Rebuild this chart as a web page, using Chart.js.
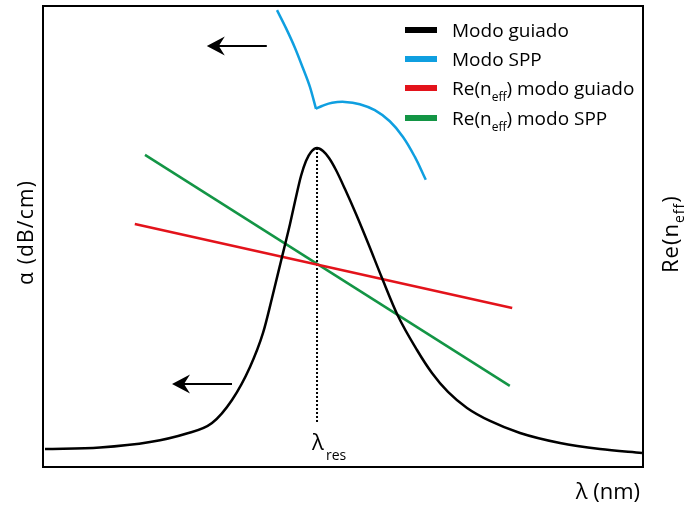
<!DOCTYPE html>
<html>
<head>
<meta charset="utf-8">
<script src="https://cdn.jsdelivr.net/npm/chart.js@4/dist/chart.umd.min.js"></script>
<style>
  html, body { margin: 0; padding: 0; background: #fff; }
  #wrap { width: 688px; height: 507px; }
</style>
</head>
<body>
<div id="wrap"><canvas id="c" width="688" height="507"></canvas></div>
<script>
// Wavelength axis is normalised (0–100); both vertical axes are schematic (0–100).

// Guided-mode attenuation α(λ) — resonant peak at λres
const lambdaGuided = [0.33, 9.5, 17.83, 23.67, 28.17, 31.5, 34.5, 36.67, 38.17, 39.67, 41.17, 42.17, 43.0, 43.83, 44.67, 45.67,
                      46.67, 47.67, 48.83, 50.33, 52.17, 54.17, 56.5, 59.17, 62.33, 64.83, 67.5, 70.67, 74.5, 79.5, 86.17, 92.83, 99.83];
const alphaGuided  = [3.90, 4.23, 5.42, 7.16, 9.54, 14.53, 21.69, 29.07, 36.66, 44.69, 52.71, 58.57, 63.12, 66.38, 68.33, 69.20,
                      68.55, 67.03, 64.43, 60.30, 54.88, 48.59, 41.00, 32.75, 25.38, 20.39, 16.27, 12.80, 9.98, 7.38, 5.21, 3.90, 3.04];

// SPP-mode attenuation: branch falling into the anti-crossing, then branch leaving it
const lambdaSppA = [39.0, 40.5, 42.0, 43.3, 44.5, 45.5];
const alphaSppA  = [99.1, 95.2, 90.9, 86.6, 82.4, 77.7];
const lambdaSppB = [45.5, 46.5, 48.2, 50.3, 52.8, 55.3, 57.8, 60.0, 62.0, 63.8];
const alphaSppB  = [77.7, 78.3, 79.0, 79.2, 78.7, 77.4, 75.0, 71.6, 67.2, 62.3];

// Effective index (right axis), linear trends crossing at λres
const lambdaNeffGuided = [15.3, 78.2];
const neffGuided       = [52.7, 34.5];
const lambdaNeffSpp    = [17.0, 77.8];
const neffSpp          = [67.7, 17.6];

// Resonance marker
const lambdaRes = 45.67;
const resMarkerAlpha = [69.2, 9.5];

// Arrows pointing to the α axis: [λ tail, λ tip, α]
const arrowUpper = [37.3, 27.3, 91.3];
const arrowLower = [31.5, 21.5, 18.0];

// Legend entries (text segments, subscript marked)
const legendColors = ['#000000', '#0f9fe0', '#e3131b', '#139545'];
const legendTexts = [
  [['Modo guiado', false]],
  [['Modo SPP', false]],
  [['Re(n', false], ['eff', true], [') modo guiado', false]],
  [['Re(n', false], ['eff', true], [') modo SPP', false]]
];

const pairs = (xs, ys) => xs.map((x, i) => ({ x: x, y: ys[i] }));
const FONT = "'Open Sans', 'DejaVu Sans', sans-serif";

function drawSegments(ctx, segs, x, y, size, subSize, subShift) {
  let cx = x;
  segs.forEach(([t, sub]) => {
    ctx.font = (sub ? subSize : size) + 'px ' + FONT;
    ctx.fillText(t, cx, sub ? y + subShift : y);
    cx += ctx.measureText(t).width;
  });
}

function arrow(ctx, xs, ys, a) {
  const tail = xs.getPixelForValue(a[0]);
  const tip = xs.getPixelForValue(a[1]);
  const y = ys.getPixelForValue(a[2]);
  ctx.strokeStyle = '#000';
  ctx.lineWidth = 2;
  ctx.beginPath();
  ctx.moveTo(tip + 10, y);
  ctx.lineTo(tail, y);
  ctx.stroke();
  ctx.fillStyle = '#000';
  ctx.beginPath();
  ctx.moveTo(tip, y);
  ctx.lineTo(tip + 18, y - 9.5);
  ctx.lineTo(tip + 12, y);
  ctx.lineTo(tip + 18, y + 9.5);
  ctx.closePath();
  ctx.fill();
}

const decor = {
  id: 'decor',
  afterDatasetsDraw(chart) {
    const { ctx, chartArea: a, scales } = chart;
    const xs = scales.x, ys = scales.y;
    ctx.save();

    // frame
    ctx.strokeStyle = '#000';
    ctx.lineWidth = 2;
    ctx.strokeRect(a.left, a.top, a.right - a.left, a.bottom - a.top);

    // arrows
    arrow(ctx, xs, ys, arrowUpper);
    arrow(ctx, xs, ys, arrowLower);

    // legend
    ctx.textBaseline = 'alphabetic';
    ctx.textAlign = 'left';
    const rows = [30, 59, 88, 118];
    rows.forEach((ry, i) => {
      ctx.fillStyle = legendColors[i];
      ctx.fillRect(405, ry - 3, 32, 6);
      ctx.fillStyle = '#000';
      drawSegments(ctx, legendTexts[i], 452, ry + 7, 19, 12, 6);
    });

    // λres label under the marker
    const px = xs.getPixelForValue(lambdaRes);
    ctx.fillStyle = '#000';
    ctx.font = '22px ' + FONT;
    ctx.fillText('λ', px - 5, 450);
    ctx.font = '14px ' + FONT;
    ctx.fillText('res', px + 9, 460);

    // x-axis title
    ctx.font = '22px ' + FONT;
    ctx.textAlign = 'right';
    ctx.fillText('λ (nm)', 640, 499);

    // left axis title
    ctx.save();
    ctx.translate(33, 232.5);
    ctx.rotate(-Math.PI / 2);
    ctx.textAlign = 'center';
    ctx.font = '21px ' + FONT;
    if ('letterSpacing' in ctx) ctx.letterSpacing = '1.2px';
    ctx.fillText('α (dB/cm)', 0, 0);
    ctx.restore();

    // right axis title
    ctx.save();
    ctx.translate(678, 273);
    ctx.rotate(-Math.PI / 2);
    ctx.textAlign = 'left';
    if ('letterSpacing' in ctx) ctx.letterSpacing = '1px';
    drawSegments(ctx, [['Re(n', false], ['eff', true], [')', false]], 0, 0, 22, 14, 6);
    ctx.restore();

    ctx.restore();
  }
};

const lineDs = (data, color, axis, extra) => Object.assign({
  data: data,
  borderColor: color,
  borderWidth: 2.5,
  pointRadius: 0,
  fill: false,
  yAxisID: axis,
  cubicInterpolationMode: 'monotone'
}, extra || {});

const straight = { cubicInterpolationMode: 'default', tension: 0 };

new Chart(document.getElementById('c'), {
  type: 'line',
  data: {
    datasets: [
      lineDs(pairs(lambdaGuided, alphaGuided), legendColors[0], 'y'),
      lineDs(pairs(lambdaSppA, alphaSppA), legendColors[1], 'y'),
      lineDs(pairs(lambdaSppB, alphaSppB), legendColors[1], 'y', { cubicInterpolationMode: 'default', tension: 0.4 }),
      lineDs(pairs(lambdaNeffGuided, neffGuided), legendColors[2], 'y2', straight),
      lineDs(pairs(lambdaNeffSpp, neffSpp), legendColors[3], 'y2', straight),
      lineDs(pairs([lambdaRes, lambdaRes], resMarkerAlpha), '#000', 'y', Object.assign({ borderWidth: 2, borderDash: [2, 2] }, straight))
    ]
  },
  options: {
    responsive: false,
    devicePixelRatio: 1,
    animation: false,
    layout: { padding: { left: 43, right: 45, top: 6, bottom: 40 } },
    plugins: { legend: { display: false }, tooltip: { enabled: false } },
    scales: {
      x: { type: 'linear', min: 0, max: 100, display: false },
      y: { type: 'linear', min: 0, max: 100, display: false },
      y2: { type: 'linear', min: 0, max: 100, display: false, position: 'right' }
    }
  },
  plugins: [decor]
});
</script>
</body>
</html>
